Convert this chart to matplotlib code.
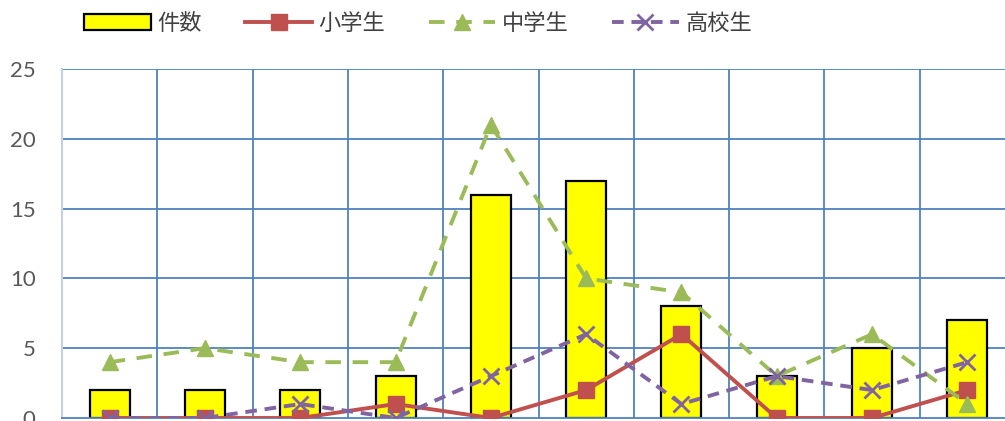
import matplotlib
matplotlib.use("Agg")
import matplotlib.pyplot as plt
import numpy as np

plt.rcParams['font.family'] = ['Noto Sans CJK JP', 'DejaVu Sans']

categories = list(range(1, 11))
kensu = [2, 2, 2, 3, 16, 17, 8, 3, 5, 7]
shogaku = [0, 0, 0, 1, 0, 2, 6, 0, 0, 2]
chugaku = [4, 5, 4, 4, 21, 10, 9, 3, 6, 1]
koko = [0, 0, 1, 0, 3, 6, 1, 3, 2, 4]
yticks = [0, 5, 10, 15, 20, 25]

fig = plt.figure(figsize=(10.05, 4.21), dpi=100)
ax = fig.add_axes([62/1005, 3/421, 953/1005, 349/421])
x = np.arange(len(categories))

grid_c = '#4F81BD'
for v in yticks[1:]:
    ax.axhline(v, color=grid_c, lw=1.3, zorder=0)
for b in np.arange(len(categories) + 1) - 0.5:
    ax.axvline(b, color=grid_c, lw=1.3, zorder=0)

h0 = ax.bar(x, kensu, width=0.42, color='#FFFF00', edgecolor='black', linewidth=1.6, zorder=2, label='件数')
h1, = ax.plot(x, shogaku, color='#C0504D', lw=2.8, marker='s', ms=11, zorder=3, label='小学生')
h2, = ax.plot(x, chugaku, color='#9BBB59', lw=2.8, ls=(0, (4, 3)), marker='^', ms=12, zorder=3, label='中学生')
h3, = ax.plot(x, koko, color='#8064A2', lw=2.8, ls=(0, (3, 2)), marker='x', ms=11, mew=2, zorder=4, label='高校生')

ax.set_xlim(-0.5, len(categories) - 0.5)
ax.set_ylim(0, 25)
ax.set_yticks(yticks)
ax.set_xticks([])
ax.tick_params(axis='y', length=0, pad=19, labelsize=16, labelcolor='#595959')
for lab in ax.get_yticklabels():
    lab.set_family(['Lato', 'DejaVu Sans'])
for s in ['top', 'right']:
    ax.spines[s].set_visible(False)
ax.spines['left'].set_color('#C8D0DC')
ax.spines['left'].set_linewidth(1.5)
ax.spines['bottom'].set_color(grid_c)
ax.spines['bottom'].set_linewidth(1.3)

leg = fig.legend(handles=[h0, h1, h2, h3], labels=['件数', '小学生', '中学生', '高校生'],
                 loc='upper left', bbox_to_anchor=(64/1005, 1.02), ncol=4, frameon=False,
                 fontsize=16, handlelength=3.0, columnspacing=1.95, handletextpad=0.3,
                 labelcolor='#404040')
plt.savefig('out.png', dpi=100)
